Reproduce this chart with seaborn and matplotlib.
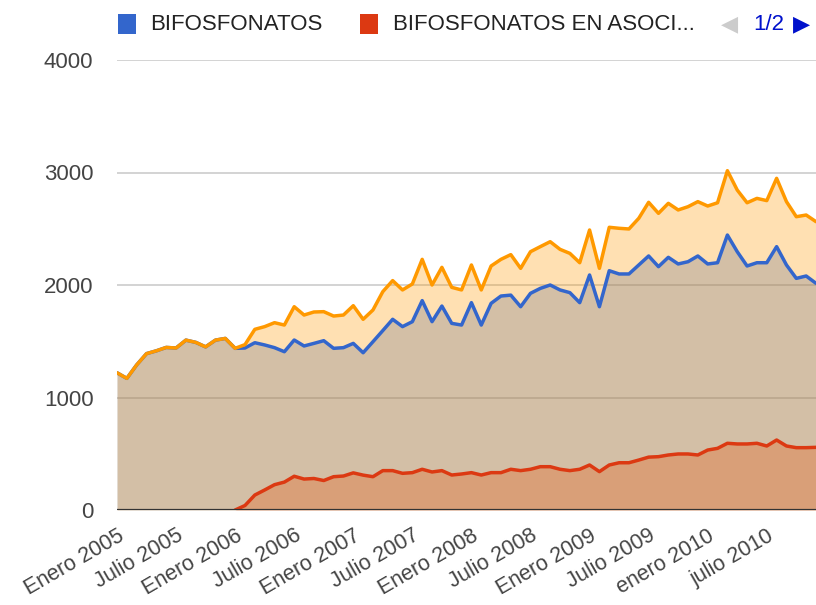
import numpy as np
import pandas as pd
import matplotlib
matplotlib.use("Agg")
import matplotlib.pyplot as plt
import seaborn as sns
from matplotlib.patches import Rectangle

# ---- data (monthly, Jan 2005 .. Dec 2010) ----
month_index = list(range(72))

bifosfonatos = [1220, 1170, 1290, 1390, 1415, 1445, 1440, 1510, 1490, 1450, 1510, 1525,
                1437, 1440, 1487, 1467, 1443, 1407, 1511, 1458, 1481, 1505, 1437, 1443,
                1481, 1398, 1496, 1595, 1695, 1630, 1674, 1861, 1674, 1813, 1659, 1644,
                1843, 1644, 1837, 1902, 1910, 1807, 1926, 1970, 2000, 1956, 1932, 1843,
                2089, 1807, 2127, 2098, 2098, 2178, 2258, 2163, 2246, 2187, 2207, 2258,
                2187, 2198, 2444, 2296, 2169, 2198, 2198, 2341, 2178, 2059, 2080, 2015]

asociacion = [None] * 12 + [
                0, 40, 133, 178, 225, 248, 300, 275, 280, 262, 296, 302,
                330, 310, 296, 350, 350, 326, 332, 362, 338, 350, 311, 320,
                332, 311, 332, 332, 362, 350, 362, 385, 385, 362, 350, 362,
                400, 341, 400, 420, 420, 444, 470, 474, 489, 498, 498, 489,
                533, 548, 593, 587, 587, 593, 569, 622, 569, 554, 554, 557]

total = [1220, 1170, 1290, 1390, 1415, 1445, 1440, 1510, 1490, 1450, 1510, 1525,
         1437, 1470, 1606, 1630, 1665, 1644, 1807, 1733, 1760, 1763, 1724, 1733,
         1816, 1695, 1778, 1941, 2039, 1956, 2009, 2228, 2000, 2157, 1979, 1956,
         2178, 1956, 2169, 2228, 2270, 2148, 2296, 2341, 2385, 2317, 2281, 2198,
         2489, 2148, 2513, 2504, 2498, 2593, 2735, 2637, 2726, 2667, 2696, 2741,
         2702, 2731, 3016, 2844, 2731, 2770, 2750, 2948, 2741, 2607, 2622, 2563]

tick_labels = ["Enero 2005", "Julio 2005", "Enero 2006", "Julio 2006", "Enero 2007",
               "Julio 2007", "Enero 2008", "Julio 2008", "Enero 2009", "Julio 2009",
               "enero 2010", "julio 2010"]
tick_positions = list(range(0, 72, 6))

series_names = ["BIFOSFONATOS", "BIFOSFONATOS EN ASOCIACIÓN", "TOTAL"]
colors = ["#3366cc", "#dc3912", "#ff9900"]

df = pd.DataFrame({"mes": month_index,
                   series_names[0]: bifosfonatos,
                   series_names[1]: pd.array(asociacion, dtype="Float64"),
                   series_names[2]: total})

sns.set_style("white")
plt.rcParams["font.family"] = ["Liberation Sans", "DejaVu Sans"]

FS = 16
W, H = 816, 605
fig = plt.figure(figsize=(W / 100, H / 100), dpi=100)
ax = fig.add_axes([117 / W, (H - 510) / H, (816 - 117) / W, 450 / H])

# gridlines under areas
for v in [1000, 2000, 3000, 4000]:
    ax.axhline(v, color="#cccccc", lw=1.2, zorder=0)

# areas
for name, c in zip(series_names, colors):
    y = df[name].astype(float)
    ax.fill_between(df["mes"], 0, y, where=~y.isna(), color=c, alpha=0.3,
                    lw=0, zorder=1, interpolate=False)

# lines
for name, c in zip(series_names, colors):
    sub = df[["mes", name]].dropna()
    sns.lineplot(x=sub["mes"], y=sub[name].astype(float), ax=ax, color=c,
                 lw=2.5, zorder=3, legend=False)

ax.axhline(0, color="#333333", lw=1.6, zorder=4)

ax.set_xlim(0, 71)
ax.set_ylim(0, 4000)
ax.set_yticks([0, 1000, 2000, 3000, 4000])
ax.set_yticklabels(["0", "1000", "2000", "3000", "4000"])
ax.set_xticks(tick_positions)
ax.set_xticklabels(tick_labels, rotation=30, ha="right", rotation_mode="anchor")
ax.tick_params(axis="y", length=0, pad=17, labelsize=FS, labelcolor="#444444")
ax.tick_params(axis="x", length=0, pad=11, labelsize=15.5, labelcolor="#444444")
ax.set_xlabel("")
ax.set_ylabel("")
for s in ax.spines.values():
    s.set_visible(False)

# legend (top)
def fig_rect(x, y, w, h, color):
    fig.add_artist(Rectangle((x / W, 1 - (y + h) / H), w / W, h / H,
                             transform=fig.transFigure, color=color, lw=0))

fig_rect(118, 14, 18, 20, colors[0])
fig.text(150 / W, 1 - 24 / H, "BIFOSFONATOS", fontsize=FS, color="#222222",
         va="center", ha="left")
fig_rect(360, 14, 18, 20, colors[1])
fig.text(393 / W, 1 - 24 / H, "BIFOSFONATOS EN ASOCI...", fontsize=FS,
         color="#222222", va="center", ha="left")
fig.text(721 / W, 1 - 24 / H, "◀", fontsize=FS, color="#cccccc",
         va="center", ha="left", family="DejaVu Sans")
fig.text(753 / W, 1 - 24 / H, "1/2", fontsize=FS, color="#0011cc",
         va="center", ha="left")
fig.text(793 / W, 1 - 24 / H, "▶", fontsize=FS, color="#0011cc",
         va="center", ha="left", family="DejaVu Sans")

fig.savefig("out.png", dpi=100)
